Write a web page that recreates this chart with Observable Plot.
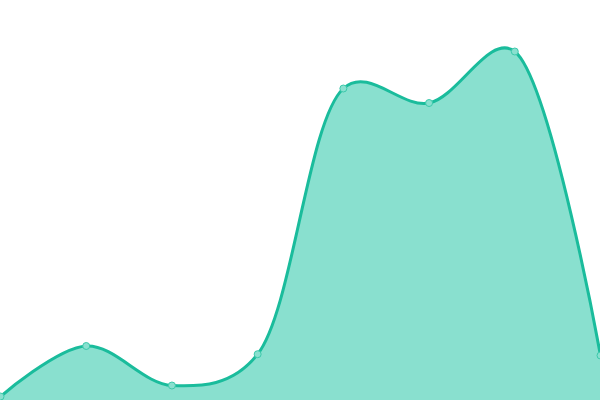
<!DOCTYPE html>
<html>
<head>
<meta charset="utf-8">
<script src="https://cdn.jsdelivr.net/npm/d3@7"></script>
<script src="https://cdn.jsdelivr.net/npm/@observablehq/plot@0.6"></script>
<style>
  html, body { margin: 0; padding: 0; background: #fff; }
  #chart svg { display: block; overflow: hidden; }
</style>
</head>
<body>
<div id="chart"></div>
<script>
const steps = [0, 1, 2, 3, 4, 5, 6, 7];
const values = [4, 54.5, 15, 46.3, 312, 297.5, 349, 45];

const data = steps.map((s, i) => ({x: s, y: values[i]}));

const chart = Plot.plot({
  width: 600,
  height: 400,
  margin: 0,
  x: {domain: [0, 7], axis: null},
  y: {domain: [0, 400], axis: null},
  marks: [
    Plot.areaY(data, {x: "x", y: "y", fill: "#89e0cf", curve: "catmull-rom", tension: 0.3}),
    Plot.line(data, {x: "x", y: "y", stroke: "#1abc9c", strokeWidth: 3, curve: "catmull-rom", tension: 0.3}),
    Plot.dot(data, {x: "x", y: "y", r: 3.5, fill: "#89e0cf", stroke: "#3cc9ab", strokeWidth: 1})
  ]
});
document.getElementById("chart").append(chart);
</script>
</body>
</html>
